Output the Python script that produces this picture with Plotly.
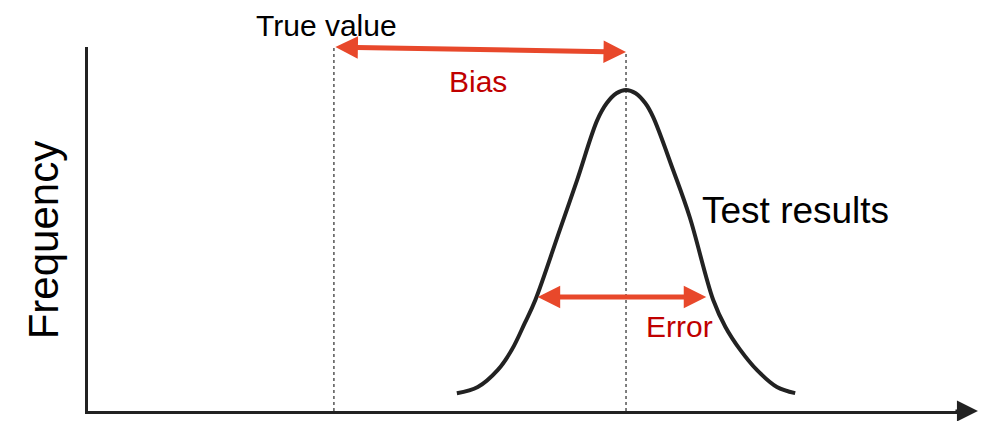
import plotly.graph_objects as go

curve_x = [42.3, 44.7, 47.0, 48.6, 50.1, 51.3, 54.1, 56.1, 58.4, 59.5, 60.6, 61.7,
           62.8, 63.9, 64.8, 67.1, 69.0, 71.7, 73.1, 74.8, 76.7, 79.0, 81.1]
curve_y = [4.9, 6.6, 11.3, 16.8, 24.2, 30.5, 49.7, 63.5, 79.9, 84.6, 87.3, 88.2,
           87.3, 84.6, 80.8, 66.2, 53.3, 30.5, 23.1, 16.8, 11.3, 6.6, 4.9]

# Reference positions
true_value = 28.2
mean_value = 61.7
bias_y = [100.0, 98.6]
error_x = [51.4, 70.9]
error_y = 31.3

ARROW = '#E8482B'
DARK = '#222222'
RED = '#C00000'
FONT = 'Arial, Liberation Sans, sans-serif'

fig = go.Figure()

# dotted guide lines
fig.add_trace(go.Scatter(x=[true_value, true_value], y=[0, bias_y[0]], mode='lines',
                         line=dict(color='#555555', width=1.5, dash='dot'), hoverinfo='skip'))
fig.add_trace(go.Scatter(x=[mean_value, mean_value], y=[0, bias_y[1]], mode='lines',
                         line=dict(color='#555555', width=1.5, dash='dot'), hoverinfo='skip'))

# the distribution
fig.add_trace(go.Scatter(x=curve_x, y=curve_y, mode='lines',
                         line=dict(color=DARK, width=4, shape='spline', smoothing=1.0),
                         hoverinfo='skip'))

# double-headed arrows
fig.add_annotation(x=mean_value, y=bias_y[1], ax=true_value, ay=bias_y[0],
                   xref='x', yref='y', axref='x', ayref='y', text='',
                   showarrow=True, arrowhead=2, startarrowhead=2, arrowside='end+start',
                   arrowsize=0.9, startarrowsize=0.9, arrowwidth=5, arrowcolor=ARROW)
fig.add_annotation(x=error_x[1], y=error_y, ax=error_x[0], ay=error_y,
                   xref='x', yref='y', axref='x', ayref='y', text='',
                   showarrow=True, arrowhead=2, startarrowhead=2, arrowside='end+start',
                   arrowsize=0.9, startarrowsize=0.9, arrowwidth=5, arrowcolor=ARROW)

# arrow tip of the x axis
fig.add_annotation(x=1.0206, y=0, ax=-24, ay=0, xref='paper', yref='paper',
                   axref='pixel', ayref='pixel',
                   text='', showarrow=True, arrowhead=2, arrowsize=1.4, arrowwidth=3,
                   arrowcolor=DARK)

# labels
fig.add_annotation(x=27.3, y=1.059, yref='paper', text='True value', showarrow=False,
                   xanchor='center', yanchor='middle', borderpad=0,
                   font=dict(family=FONT, size=30, color='black'))
fig.add_annotation(x=44.7, y=90.4, text='Bias', showarrow=False,
                   xanchor='center', yanchor='middle',
                   font=dict(family=FONT, size=30, color=RED))
fig.add_annotation(x=67.8, y=23.1, text='Error', showarrow=False,
                   xanchor='center', yanchor='middle',
                   font=dict(family=FONT, size=30, color=RED))
fig.add_annotation(x=81.1, y=55.2, text='Test results', showarrow=False,
                   xanchor='center', yanchor='middle',
                   font=dict(family=FONT, size=37, color='black'))
fig.add_annotation(x=-0.0516, xref='paper', y=46.9, text='Frequency', showarrow=False,
                   textangle=-90, xanchor='center', yanchor='middle',
                   font=dict(family=FONT, size=42, color='black'))

fig.update_layout(
    width=984, height=413,
    margin=dict(l=80, r=32, t=39, b=10),
    paper_bgcolor='white', plot_bgcolor='white',
    showlegend=False,
)
fig.update_xaxes(range=[0, 100], showgrid=False, zeroline=False, showticklabels=False,
                 ticks='', showline=True, linecolor=DARK, linewidth=3)
fig.update_yaxes(range=[0, 100], showgrid=False, zeroline=False, showticklabels=False,
                 ticks='', showline=True, linecolor=DARK, linewidth=3)
fig.update_traces(cliponaxis=False)

fig.write_html("out.html")
